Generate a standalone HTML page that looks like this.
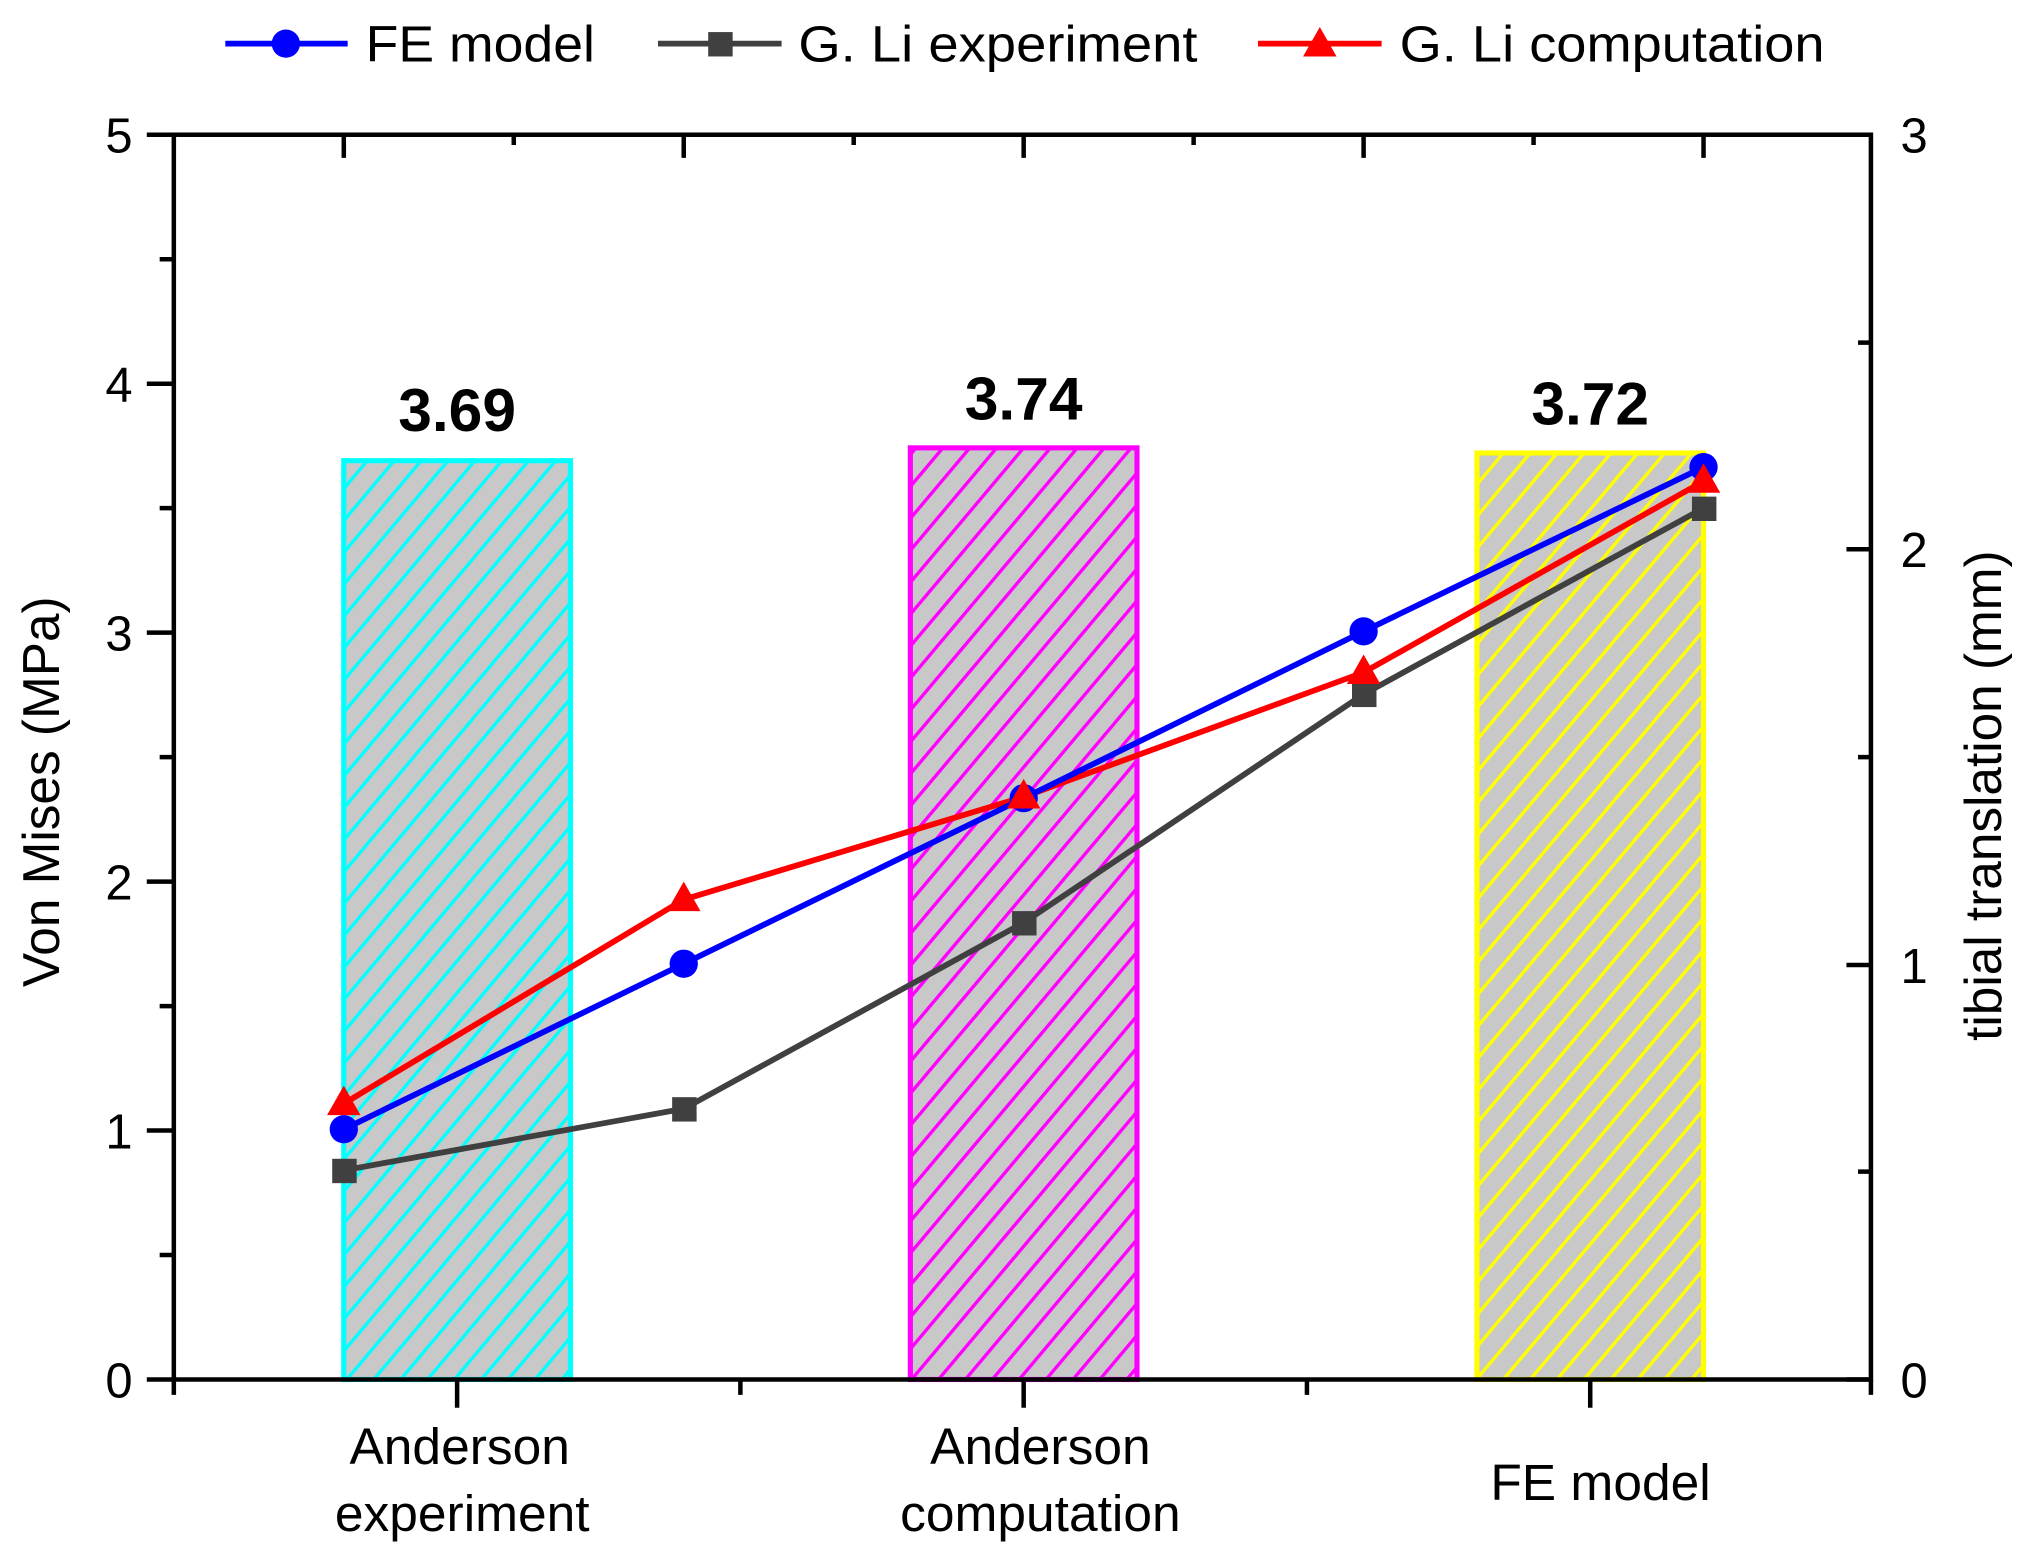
<!DOCTYPE html>
<html><head><meta charset="utf-8"><style>html,body{margin:0;padding:0;background:#fff}svg{display:block}</style></head>
<body>
<svg width="2019" height="1563" viewBox="0 0 1568 1218" preserveAspectRatio="none" xmlns="http://www.w3.org/2000/svg" font-family="Liberation Sans, Arial, sans-serif">
<defs>
<pattern id="hc" patternUnits="userSpaceOnUse" width="16" height="16" patternTransform="rotate(40)"><rect width="16" height="16" fill="#c8c8c8"/><rect x="0" y="0" width="2.6" height="16" fill="#00ffff"/></pattern>
<pattern id="hm" patternUnits="userSpaceOnUse" width="16" height="16" patternTransform="rotate(40)"><rect width="16" height="16" fill="#c8c8c8"/><rect x="0" y="0" width="2.6" height="16" fill="#ff00ff"/></pattern>
<pattern id="hy" patternUnits="userSpaceOnUse" width="16" height="16" patternTransform="rotate(40)"><rect width="16" height="16" fill="#c8c8c8"/><rect x="0" y="0" width="2.6" height="16" fill="#ffff00"/></pattern>
</defs>
<rect x="267" y="359" width="176" height="716" fill="url(#hc)" stroke="#00ffff" stroke-width="4"/>
<rect x="707" y="349" width="176" height="726" fill="url(#hm)" stroke="#ff00ff" stroke-width="4"/>
<rect x="1147" y="353" width="176" height="722" fill="url(#hy)" stroke="#ffff00" stroke-width="4"/>
<g font-weight="bold" font-size="47" text-anchor="middle" fill="#000">
<text x="355" y="336">3.69</text><text x="795" y="327">3.74</text><text x="1235" y="331">3.72</text>
</g>
<g stroke="#000" stroke-width="3.5" fill="none">
<rect x="135" y="105" width="1318" height="970"/>
<path d="M114 1075H135M114 881H135M114 687H135M114 493H135M114 299H135M114 105H135"/>
<path d="M124 978H135M124 784H135M124 590H135M124 396H135M124 202H135"/>
<path d="M1434 1075H1453M1434 752H1453M1434 428H1453M1434 105H1453"/>
<path d="M1443 913H1453M1443 590H1453M1443 267H1453"/>
<path d="M267 105V123M531 105V123M795 105V123M1059 105V123M1323 105V123M399 105V113M663 105V113M927 105V113M1191 105V113"/>
<path d="M355 1075V1097M795 1075V1097M1235 1075V1097M135 1075V1087M575 1075V1087M1015 1075V1087M1453 1075V1087"/>
</g>
<g font-size="38" fill="#000" text-anchor="end">
<text x="103" y="1089">0</text><text x="103" y="895">1</text><text x="103" y="701">2</text><text x="103" y="507">3</text><text x="103" y="313">4</text><text x="103" y="119">5</text>
</g>
<g font-size="38" fill="#000" text-anchor="start">
<text x="1476" y="1089">0</text><text x="1476" y="766">1</text><text x="1476" y="442">2</text><text x="1476" y="119">3</text>
</g>
<text transform="translate(46,617) rotate(-90)" font-size="40" text-anchor="middle">Von Mises (MPa)</text>
<text transform="translate(1554,620) rotate(-90)" font-size="40" text-anchor="middle">tibial translation (mm)</text>
<g font-size="40" text-anchor="middle">
<text x="357" y="1141">Anderson</text><text x="359" y="1193">experiment</text>
<text x="808" y="1141">Anderson</text><text x="808" y="1193">computation</text>
<text x="1243" y="1169">FE model</text>
</g>
<g fill="none" stroke-width="4.5">
<polyline stroke="#404040" points="267,912 531,864 795,719 1059,541 1323,396"/>
<polyline stroke="#ff0000" points="267,860 531,701 795,621 1059,524 1323,375"/>
<polyline stroke="#0000ff" points="267,880 531,751 795,622 1059,492 1323,364"/>
</g>
<g fill="#404040"><rect x="258" y="903" width="19" height="19"/><rect x="522" y="855" width="19" height="19"/><rect x="786" y="710" width="19" height="19"/><rect x="1050" y="532" width="19" height="19"/><rect x="1314" y="387" width="19" height="19"/></g>
<g fill="#0000ff"><circle cx="267" cy="880" r="11"/><circle cx="531" cy="751" r="11"/><circle cx="795" cy="622" r="11"/><circle cx="1059" cy="492" r="11"/><circle cx="1323" cy="364" r="11"/></g>
<g fill="#ff0000">
<polygon points="267,846 254,869 280,869"/><polygon points="531,687 518,710 544,710"/><polygon points="795,607 782,630 808,630"/><polygon points="1059,510 1046,533 1072,533"/><polygon points="1323,361 1310,384 1336,384"/>
</g>
<g stroke-width="4.5">
<line x1="175" y1="34" x2="270" y2="34" stroke="#0000ff"/><circle cx="222" cy="34" r="11" fill="#0000ff"/>
<line x1="511" y1="34" x2="607" y2="34" stroke="#404040"/><rect x="550" y="25" width="19" height="19" fill="#404040"/>
<line x1="977" y1="34" x2="1073" y2="34" stroke="#ff0000"/><polygon points="1025,21 1012,44 1038,44" fill="#ff0000"/>
</g>
<g font-size="40" fill="#000">
<text x="284" y="48" textLength="178" lengthAdjust="spacingAndGlyphs">FE model</text><text x="620" y="48" textLength="310" lengthAdjust="spacingAndGlyphs">G. Li experiment</text><text x="1087" y="48" textLength="330" lengthAdjust="spacingAndGlyphs">G. Li computation</text>
</g>
</svg>
</body></html>
